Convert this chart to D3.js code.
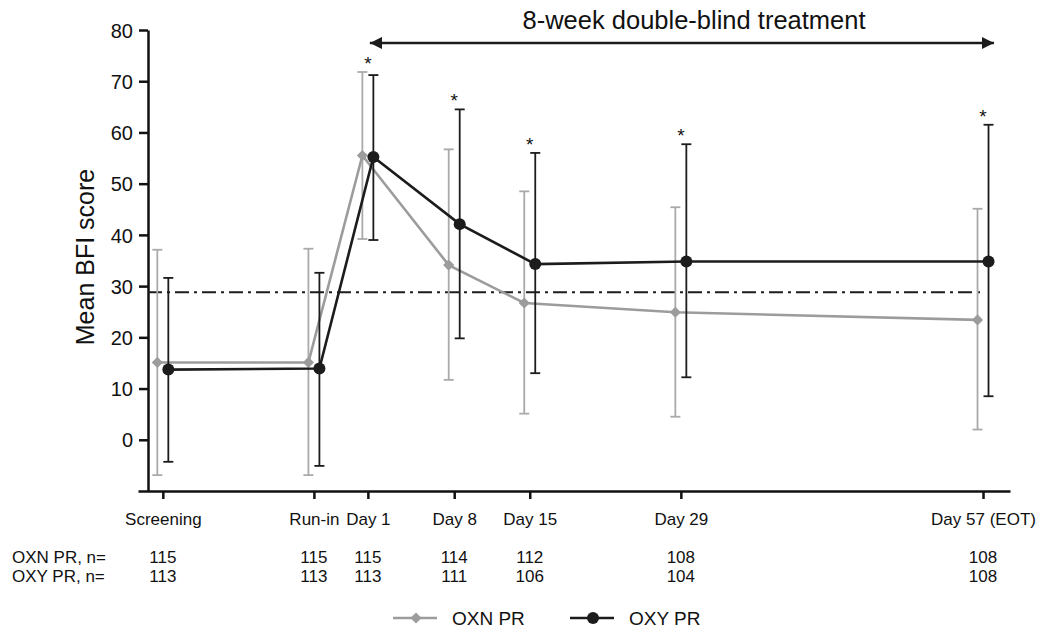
<!DOCTYPE html>
<html>
<head>
<meta charset="utf-8">
<script src="https://cdn.jsdelivr.net/npm/d3@7"></script>
<style>
  body { margin: 0; background: #fff; }
  svg { display: block; font-family: "Liberation Sans", Arial, sans-serif; }
</style>
</head>
<body>
<script>
// Data
const visits = ['Screening', 'Run-in', 'Day 1', 'Day 8', 'Day 15', 'Day 29', 'Day 57 (EOT)'];
const visitDay = [-19, -5, 0, 8, 15, 29, 57];

const oxnMean  = [15.1, 15.1, 55.5, 34.1, 26.7, 24.9, 23.4];
const oxnUpper = [37.1, 37.3, 71.8, 56.7, 48.5, 45.4, 45.1];
const oxnLower = [-6.9, -6.9, 39.2, 11.7, 5.1, 4.5, 2.0];
const oxnN     = [115, 115, 115, 114, 112, 108, 108];

const oxyMean  = [13.7, 13.9, 55.2, 42.1, 34.3, 34.8, 34.8];
const oxyUpper = [31.6, 32.6, 71.2, 64.5, 56.0, 57.7, 61.5];
const oxyLower = [-4.3, -5.1, 39.0, 19.8, 13.0, 12.2, 8.5];
const oxyN     = [113, 113, 113, 111, 106, 104, 108];

const significant = [false, false, true, true, true, true, true];
const refScore = 28.8;
const yTicks = [0, 10, 20, 30, 40, 50, 60, 70, 80];

// Constant
const w = 1037;
const h = 628;
const yAxisX = 148;
const offset = 5.5;
const grey = '#9c9c9c';
const greyBar = '#aaaaaa';
const dark = '#1c1c1c';
const ink = '#111';

var svg = d3.select('body')
  .append('svg')
  .attr('width', w)
  .attr('height', h);

var x = d3.scaleLinear().domain([-21.3, 59.5]).range([138, 1010]);
var y = d3.scaleLinear().domain([-10, 80]).range([491, 30]);

function styleAxis(g) {
  g.selectAll('path, line').attr('stroke', ink).attr('stroke-width', 2.5);
  g.selectAll('text').attr('fill', ink);
}

// y axis
svg.append('g')
  .attr('transform', `translate(${yAxisX},0)`)
  .call(d3.axisLeft(y).tickValues(yTicks).tickSize(9).tickSizeOuter(0).tickPadding(6))
  .call(styleAxis)
  .call(g => g.selectAll('text').attr('dy', '0.36em').style('font-size', '20px'));

// x axis
svg.append('g')
  .attr('transform', `translate(0,${y(-10)})`)
  .call(d3.axisBottom(x).tickValues(visitDay).tickSize(8).tickSizeOuter(0)
    .tickFormat((d, i) => visits[i]))
  .call(styleAxis)
  .call(g => g.selectAll('text')
    .attr('y', 0)
    .attr('dy', 0)
    .attr('transform', `translate(0,${525 - y(-10)})`)
    .style('font-size', '17px'));

svg.append('text')
  .attr('x', 85)
  .attr('y', 257)
  .attr('transform', 'rotate(-90,85,257)')
  .attr('text-anchor', 'middle')
  .attr('dominant-baseline', 'central')
  .style('font-size', '25px')
  .style('fill', ink)
  .text('Mean BFI score');

// reference line
svg.append('line')
  .attr('x1', yAxisX).attr('x2', x(57))
  .attr('y1', y(refScore)).attr('y2', y(refScore))
  .attr('stroke', dark)
  .attr('stroke-width', 2.2)
  .attr('stroke-dasharray', '14,5,3,5');

// treatment arrow
svg.append('defs').selectAll('marker')
  .data(['start', 'end'])
  .enter()
  .append('marker')
  .attr('id', d => 'arrow-' + d)
  .attr('viewBox', '0 0 10 10')
  .attr('refX', d => d === 'end' ? 10 : 0)
  .attr('refY', 5)
  .attr('markerWidth', 5)
  .attr('markerHeight', 5)
  .attr('markerUnits', 'strokeWidth')
  .attr('orient', 'auto')
  .append('path')
  .attr('d', d => d === 'end' ? 'M0,0L10,5L0,10Z' : 'M10,0L0,5L10,10Z')
  .attr('fill', dark);

svg.append('line')
  .attr('x1', x(0) + 2).attr('x2', x(57) + 11)
  .attr('y1', 43).attr('y2', 43)
  .attr('stroke', dark)
  .attr('stroke-width', 2.5)
  .attr('marker-start', 'url(#arrow-start)')
  .attr('marker-end', 'url(#arrow-end)');

svg.append('text')
  .attr('x', 694)
  .attr('y', 29)
  .attr('text-anchor', 'middle')
  .style('font-size', '25.5px')
  .style('fill', ink)
  .text('8-week double-blind treatment');

// series
var series = [
  { name: 'OXN PR', mean: oxnMean, lo: oxnLower, hi: oxnUpper, dx: -offset, line: grey, bar: greyBar, shape: 'diamond' },
  { name: 'OXY PR', mean: oxyMean, lo: oxyLower, hi: oxyUpper, dx: offset, line: dark, bar: dark, shape: 'circle' }
];

var diamond = d3.symbol().type(d3.symbolSquare).size(62);

series.forEach(s => {
  var pts = visitDay.map((d, i) => ({ day: d, m: s.mean[i], lo: s.lo[i], hi: s.hi[i] }));
  var g = svg.append('g');

  g.append('path')
    .datum(pts)
    .attr('fill', 'none')
    .attr('stroke', s.line)
    .attr('stroke-width', 2.6)
    .attr('d', d3.line().x(d => x(d.day) + s.dx).y(d => y(d.m)));

  var bars = g.selectAll('.bar')
    .data(pts)
    .enter()
    .append('g')
    .attr('stroke', s.bar)
    .attr('stroke-width', 1.8);
  bars.append('line')
    .attr('x1', d => x(d.day) + s.dx).attr('x2', d => x(d.day) + s.dx)
    .attr('y1', d => y(d.lo)).attr('y2', d => y(d.hi));
  bars.append('line')
    .attr('x1', d => x(d.day) + s.dx - 5).attr('x2', d => x(d.day) + s.dx + 5)
    .attr('y1', d => y(d.hi)).attr('y2', d => y(d.hi));
  bars.append('line')
    .attr('x1', d => x(d.day) + s.dx - 5).attr('x2', d => x(d.day) + s.dx + 5)
    .attr('y1', d => y(d.lo)).attr('y2', d => y(d.lo));

  if (s.shape === 'circle') {
    g.selectAll('circle')
      .data(pts)
      .enter()
      .append('circle')
      .attr('cx', d => x(d.day) + s.dx)
      .attr('cy', d => y(d.m))
      .attr('r', 6)
      .attr('fill', s.line);
  } else {
    g.selectAll('.mk')
      .data(pts)
      .enter()
      .append('path')
      .attr('d', diamond)
      .attr('transform', d => `translate(${x(d.day) + s.dx},${y(d.m)}) rotate(45)`)
      .attr('fill', s.line);
  }
});

// asterisks
svg.selectAll('.star')
  .data(visitDay.map((d, i) => ({ day: d, top: Math.max(oxnUpper[i], oxyUpper[i]), sig: significant[i] })).filter(d => d.sig))
  .enter()
  .append('text')
  .attr('x', d => x(d.day))
  .attr('y', d => y(d.top) - 2)
  .attr('text-anchor', 'middle')
  .style('font-size', '19px')
  .style('fill', ink)
  .text('*');

// n rows
var rows = [
  { label: 'OXN PR, n=', n: oxnN, y: 563 },
  { label: 'OXY PR, n=', n: oxyN, y: 582 }
];
rows.forEach(r => {
  svg.append('text')
    .attr('x', 12).attr('y', r.y)
    .style('font-size', '17px').style('fill', ink)
    .text(r.label);
  svg.selectAll(null)
    .data(r.n)
    .enter()
    .append('text')
    .attr('x', (d, i) => x(visitDay[i]))
    .attr('y', r.y)
    .attr('text-anchor', 'middle')
    .style('font-size', '17px').style('fill', ink)
    .text(d => d);
});

// legend
var legend = svg.append('g').attr('transform', 'translate(0,618)');
var legendItems = [
  { name: 'OXN PR', x: 393, color: grey, shape: 'diamond' },
  { name: 'OXY PR', x: 570, color: dark, shape: 'circle' }
];
legendItems.forEach(l => {
  legend.append('line')
    .attr('x1', l.x).attr('x2', l.x + 44)
    .attr('y1', 0).attr('y2', 0)
    .attr('stroke', l.color).attr('stroke-width', 2.6);
  if (l.shape === 'circle') {
    legend.append('circle').attr('cx', l.x + 23).attr('cy', 0).attr('r', 6).attr('fill', l.color);
  } else {
    legend.append('path').attr('d', diamond)
      .attr('transform', `translate(${l.x + 23},0) rotate(45)`)
      .attr('fill', l.color);
  }
  legend.append('text')
    .attr('x', l.x + 59).attr('y', 0)
    .attr('dominant-baseline', 'central')
    .style('font-size', '19px').style('fill', ink)
    .text(l.name);
});
</script>
</body>
</html>
